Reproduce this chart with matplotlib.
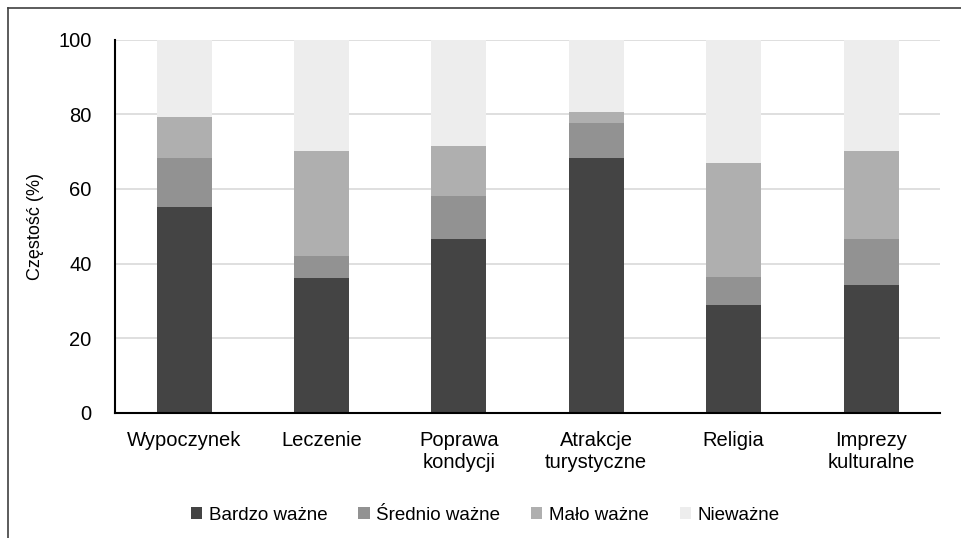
import matplotlib.pyplot as plt
import numpy as np
from matplotlib.lines import Line2D

plt.rcParams['font.family'] = ['Liberation Sans', 'DejaVu Sans']

categories = ['Wypoczynek', 'Leczenie', 'Poprawa\nkondycji',
              'Atrakcje\nturystyczne', 'Religia', 'Imprezy\nkulturalne']
bardzo = [55.1, 36.2, 46.7, 68.4, 28.8, 34.3]
srednio = [13.3, 5.9, 11.4, 9.3, 7.7, 12.3]
malo = [10.8, 28.2, 13.3, 3.0, 30.5, 23.7]
niewazne = [20.8, 29.7, 28.6, 19.3, 33.0, 29.7]

series = [bardzo, srednio, malo, niewazne]
labels = ['Bardzo ważne', 'Średnio ważne', 'Mało ważne', 'Nieważne']
colors = ['#444444', '#929292', '#afafaf', '#ededed']

fig = plt.figure(figsize=(9.61, 5.38), dpi=100)
ax = fig.add_axes([0.12, 0.233, 0.858, 0.693])

x = np.arange(len(categories))
bottom = np.zeros(len(categories))
for vals, lab, col in zip(series, labels, colors):
    ax.bar(x, vals, 0.4, bottom=bottom, color=col, label=lab, zorder=2)
    bottom += np.array(vals)

ax.set_xlim(-0.5, len(categories) - 0.5)
ax.set_ylim(0, 100)
ax.set_yticks([0, 20, 40, 60, 80, 100])
ax.set_xticks(x, categories)
ax.tick_params(axis='both', length=0, labelsize=14.5)
ax.tick_params(axis='x', pad=13)
ax.tick_params(axis='y', pad=17)
ax.yaxis.grid(True, color='#d9d9d9', linewidth=1.2, zorder=0)
ax.set_axisbelow(True)
for s in ['top', 'right']:
    ax.spines[s].set_visible(False)
for s in ['left', 'bottom']:
    ax.spines[s].set_linewidth(1.5)
    ax.spines[s].set_color('black')
ax.set_ylabel('Częstość (%)', fontsize=13, labelpad=10)

fig.legend(loc='lower center', bbox_to_anchor=(0.505, -0.005), ncol=4,
           frameon=False, fontsize=13.5, handlelength=0.6, handleheight=0.6,
           handletextpad=0.35, columnspacing=1.65)

# frame lines on the top and left only
w, h = fig.get_size_inches() * fig.dpi
fig.add_artist(Line2D([8 / w, 1], [1 - 8 / h, 1 - 8 / h], transform=fig.transFigure,
                      color='#404040', linewidth=1.2))
fig.add_artist(Line2D([8 / w, 8 / w], [0, 1 - 8 / h], transform=fig.transFigure,
                      color='#404040', linewidth=1.2))

fig.savefig('out.png', dpi=100)
